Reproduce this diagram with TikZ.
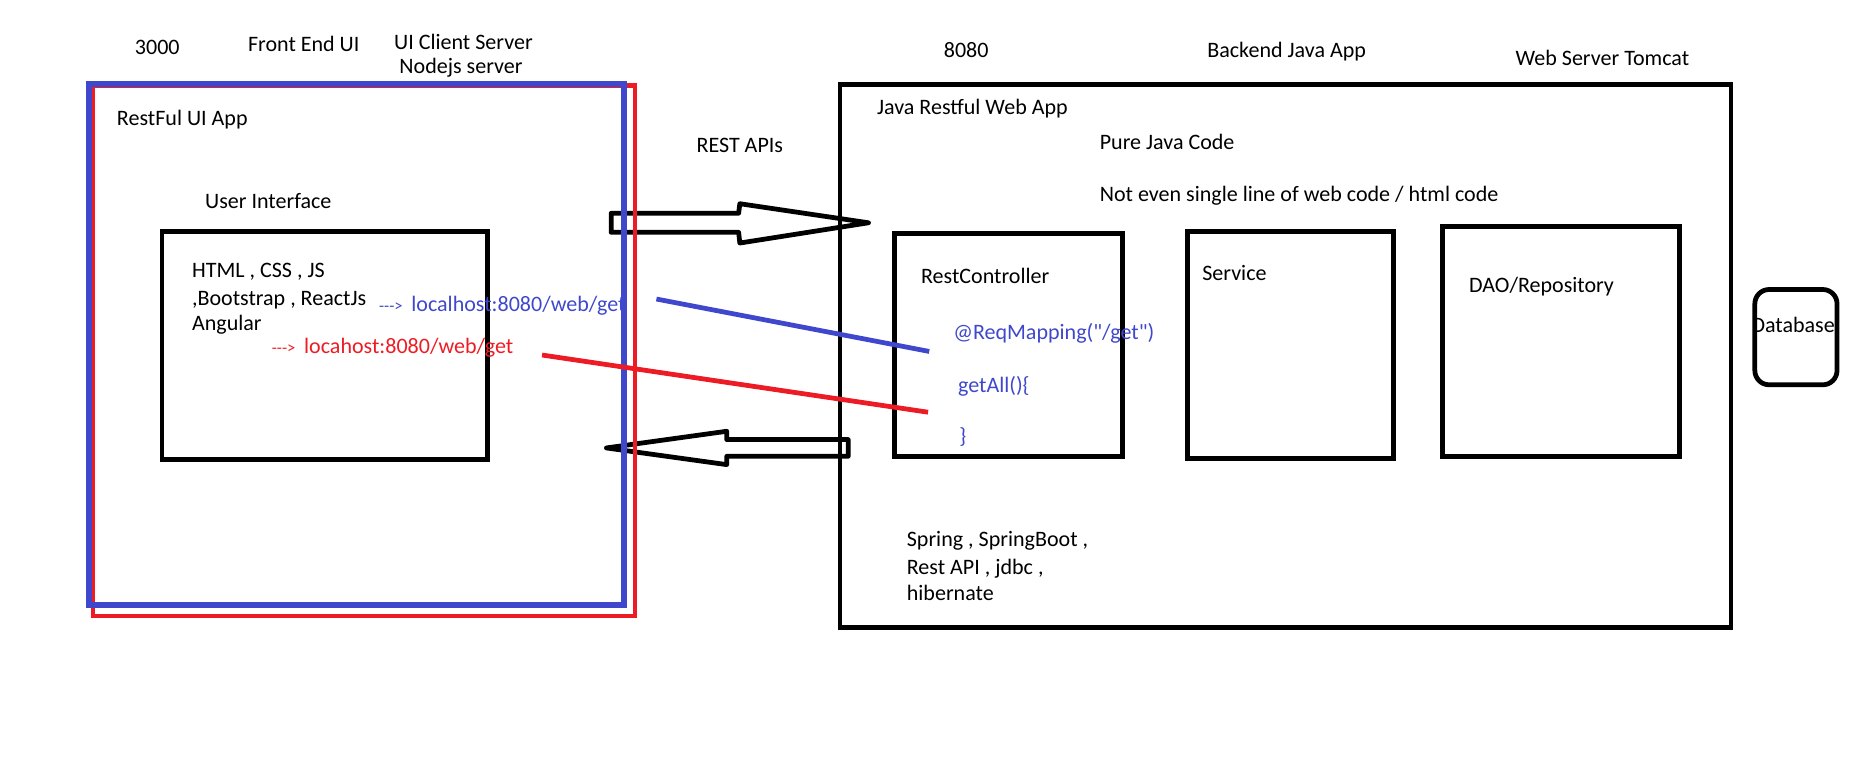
\documentclass[tikz,border=0pt]{standalone}
\usepackage{fontspec}
\setmainfont{Carlito}[Ligatures=TeXOff]
\definecolor{paintblue}{RGB}{63,72,204}
\definecolor{paintred}{RGB}{237,28,36}
\begin{document}
\begin{tikzpicture}[x=1pt,y=-1pt,
  box/.style={draw,line width=4pt,anchor=north west,inner sep=0pt},
  lbl/.style={anchor=west,inner sep=0pt,font=\fontsize{18.5}{21}\selectfont},
  clbl/.style={inner sep=0pt,font=\fontsize{18.5}{21}\selectfont}]
\useasboundingbox (0,0) rectangle (1568,656);

% headings
\node[clbl] (port1) at (132,40) {3000};
\node[clbl] (fe) at (255,37) {Front End UI};
\node[clbl] (uics) at (389,35) {UI Client Server};
\node[clbl] (node) at (387,57) {Nodejs server};
\node[clbl] (port2) at (811,42) {8080};
\node[clbl] (be) at (1080,43) {Backend Java App};
\node[clbl] (tomcat) at (1345,49) {Web Server Tomcat};

% request / response arrows
\draw[line width=4pt,line join=round] (513,179) -- (620,179) -- (621,171) -- (729,187)
  -- (621,204) -- (620,195) -- (513,195) -- cycle;
\draw[line width=4pt,line join=round] (712,369) -- (610,369) -- (610,362) -- (509,376)
  -- (610,390) -- (610,383) -- (712,383) -- cycle;
\node[clbl] (rest) at (621,122) {REST APIs};

% ui side
\node[box,draw=paintred,minimum width=455pt,minimum height=445pt] (uired) at (76,70) {};
\node[box,draw=paintblue,line width=5pt,minimum width=449pt,minimum height=437pt] (uiblue) at (72,68) {};
\node[lbl] (uiapp) at (98,100) {RestFul UI App};
\node[lbl] (uilbl) at (172,169) {User Interface};
\node[box,minimum width=273pt,minimum height=192pt] (ui) at (134,192) {};
\node[lbl] (t1) at (161,228) {HTML , CSS , JS};
\node[lbl] (t2) at (161,252) {,Bootstrap , ReactJs};
\node[lbl] (t3) at (161,273) {Angular};
\node[lbl,text=paintblue] (bcall) at (318,257) {{\fontsize{14}{16}\selectfont --->}\, localhost:8080/web/get};
\node[lbl,text=paintred] (rcall) at (228,292) {{\fontsize{14}{16}\selectfont --->}\, locahost:8080/web/get};

% java side
\node[box,minimum width=748pt,minimum height=456pt] (java) at (703,69) {};
\node[lbl] (jlbl) at (736,91) {Java Restful Web App};
\node[lbl] (pure) at (923,119) {Pure Java Code};
\node[lbl] (noweb) at (923,164) {Not even single line of web code / html code};
\node[box,minimum width=191pt,minimum height=187pt] (ctrl) at (749,194) {};
\node[lbl] (ctrllbl) at (773,232) {RestController};
\node[lbl,text=paintblue] (map) at (800,280) {@ReqMapping("/get")};
\node[lbl,text=paintblue] (get) at (804,324) {getAll()\{};
\node[lbl,text=paintblue] (close) at (805,367) {\}};
\node[box,minimum width=173pt,minimum height=191pt] (svc) at (995,192) {};
\node[lbl] (svclbl) at (1009,229) {Service};
\node[box,minimum width=199pt,minimum height=193pt] (dao) at (1209,188) {};
\node[lbl] (daolbl) at (1233,241) {DAO/Repository};
\node[lbl] (stack1) at (761,454) {Spring , SpringBoot ,};
\node[lbl] (stack2) at (761,477) {Rest API , jdbc ,};
\node[lbl] (stack3) at (761,498) {hibernate};

% database
\node[box,rounded corners=12pt,minimum width=69pt,minimum height=80pt] (db) at (1471,241) {};
\node[lbl] (dblbl) at (1470,273) {Database};

% calls into the controller
\coordinate (bfrom) at (551,251);
\coordinate (bto) at (780,295);
\coordinate (rfrom) at (455,298);
\coordinate (rto) at (779,346);
\draw[paintblue,line width=4pt] (bfrom) -- (bto);
\draw[paintred,line width=4pt] (rfrom) -- (rto);
\end{tikzpicture}
\end{document}
